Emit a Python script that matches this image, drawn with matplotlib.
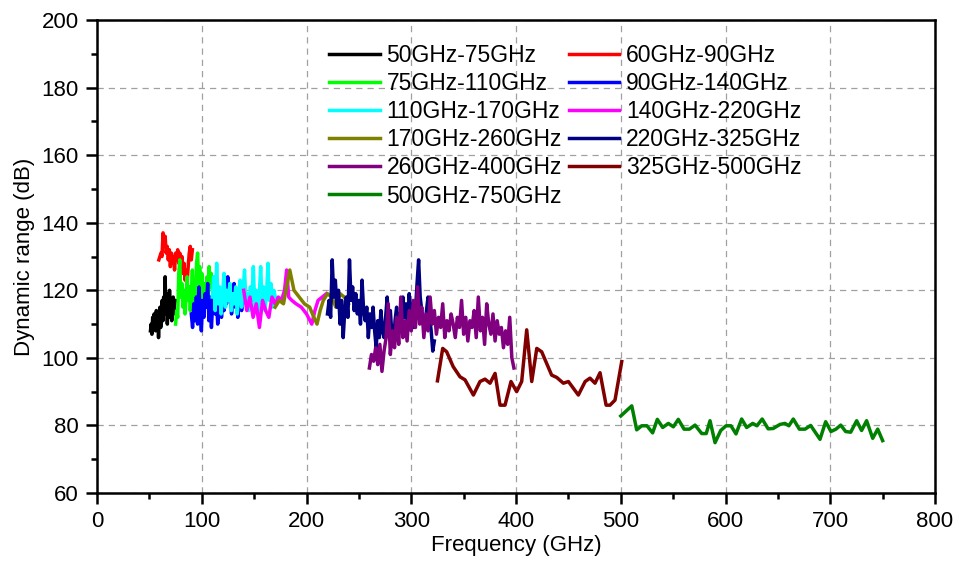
import matplotlib
matplotlib.use("Agg")
import matplotlib.pyplot as plt
from matplotlib.ticker import MultipleLocator

plt.rcParams['font.family'] = ['Liberation Sans', 'DejaVu Sans']

# ---- data ----
f_50_75 = [51, 51.7, 52.4, 53.1, 53.8, 54.5, 55.2, 55.9, 56.6, 57.3, 58, 58.7, 59.4, 60.1, 60.8, 61.5,
           62.2, 62.9, 63.6, 64.3, 65, 65.7, 66.4, 67.1, 67.8, 68.5, 69.2, 69.9, 70.6, 71.3, 72, 72.7,
           73.4, 74.1, 74.8]
d_50_75 = [108, 110, 107, 112, 109, 113, 111, 108, 114, 110, 113, 106, 112, 115, 109, 113,
           117, 111, 118, 114, 124, 113, 119, 110, 116, 112, 120, 114, 117, 111, 115, 118,
           113, 116, 117]

f_60_90 = [59, 60, 61, 62, 63, 64, 65, 66, 67, 68, 69, 70, 71, 72, 73, 74, 75, 76, 77, 78, 79, 80,
           81, 82, 83, 84, 85, 86, 87, 88, 89, 90, 91]
d_60_90 = [129, 130, 131, 130, 137, 134, 136, 131, 133, 129, 132, 127, 131, 128, 130, 126, 131, 129,
           132, 128, 131, 127, 130, 125, 128, 123, 126, 122, 127, 131, 133, 129, 132]

f_75_110 = [75, 76, 77, 78, 79, 80, 81, 82, 83, 84, 85, 86, 87, 88, 89, 90, 91, 92, 93, 94, 95, 96,
            97, 98, 99, 100, 101, 102, 103, 104, 105, 106, 107, 108, 109, 110]
d_75_110 = [110, 114, 112, 125, 129, 118, 122, 115, 120, 113, 118, 124, 117, 121, 114, 119, 126, 116,
            123, 118, 128, 131, 122, 127, 119, 125, 117, 122, 116, 120, 124, 118, 127, 121, 125, 120]

f_90_140 = [90, 91.2, 92.4, 93.6, 94.8, 96, 97.2, 98.4, 99.6, 100.8, 102, 103.2, 104.4, 105.6, 106.8,
            108, 109.2, 110.4, 111.6, 112.8, 114, 115.2, 116.4, 117.6, 118.8, 120, 121.2, 122.4,
            123.6, 124.8, 126, 127.2, 128.4, 129.6, 130.8, 132, 133.2, 134.4, 135.6, 136.8, 138, 139.2]
d_90_140 = [113, 109, 116, 111, 118, 110, 121, 114, 108, 117, 112, 119, 115, 122, 111, 118, 109, 116,
            120, 113, 117, 110, 115, 119, 112, 118, 114, 121, 116, 124, 117, 120, 113, 118, 122, 115,
            119, 112, 117, 121, 114, 118]

f_110_170 = [110, 111.4, 112.8, 114.2, 115.6, 117, 118.4, 119.8, 121.2, 122.6, 124, 125.4, 126.8,
             128.2, 129.6, 131, 132.4, 133.8, 135.2, 136.6, 138, 139.4, 140.8, 142.2, 143.6, 145,
             146.4, 147.8, 149.2, 150.6, 152, 153.4, 154.8, 156.2, 157.6, 159, 160.4, 161.8, 163.2,
             164.6, 166, 167.4, 168.8, 170.2]
d_110_170 = [118, 124, 114, 128, 116, 121, 113, 119, 125, 115, 120, 117, 122, 114, 119, 116, 121, 113,
             118, 123, 115, 120, 126, 116, 119, 114, 121, 117, 127, 115, 120, 113, 118, 127, 116, 121,
             114, 119, 128, 117, 122, 115, 120, 118]

f_140_220 = [140, 143, 146, 149, 152, 155, 158, 161, 164, 167, 170, 173, 176, 179, 181, 183, 186, 190,
             195, 200, 205, 208, 211, 215, 219]
d_140_220 = [120, 114, 118, 112, 116, 109, 117, 114, 112, 118, 116, 118, 117, 120, 126, 118, 117, 116,
             115, 113, 110, 114, 117, 118, 119]

f_170_260 = [170, 174, 178, 181, 184, 188, 193, 198, 203, 207, 210, 213, 216, 220, 224, 228, 232, 236, 240]
d_170_260 = [115, 117, 116, 121, 126, 120, 118, 116, 115, 112, 110, 114, 117, 119, 118, 115, 119, 118, 116]

f_220_325 = [220, 221.5, 223, 224.5, 226, 227.5, 229, 230.5, 232, 233.5, 235, 236.5, 238, 239.5, 241,
             242.5, 244, 245.5, 247, 248.5, 250, 251.5, 253, 254.5, 256, 257.5, 259, 260.5, 262,
             263.5, 265, 266.5, 268, 269.5, 271, 272.5, 274, 275.5, 277, 278.5, 280, 281.5, 283,
             284.5, 286, 287.5, 289, 290.5, 292, 293.5, 295, 296.5, 298, 299.5, 301, 302.5, 304,
             305.5, 307, 308.5, 310, 311.5, 313, 314.5, 316, 317.5, 319, 320.5, 322]
d_220_325 = [113, 117, 112, 129, 118, 123, 115, 120, 110, 117, 106, 114, 118, 112, 129,
             117, 121, 114, 119, 113, 117, 110, 123, 114, 111, 115, 106, 113, 109,
             115, 108, 103, 111, 106, 114, 108, 106, 112, 118, 110, 114, 107, 104,
             111, 115, 109, 113, 110, 118, 112, 116, 110, 119, 113, 116, 109, 114,
             122, 129, 118, 114, 110, 109, 114, 118, 112, 108, 102, 105]

f_260_400 = [260, 262, 264, 266, 268, 270, 272, 274, 276, 278, 280, 282, 284, 286, 288, 290, 292, 294,
             296, 298, 300, 302, 304, 306, 308, 310, 312, 314, 316, 318, 320, 322, 324, 326, 328, 330,
             332, 334, 336, 338, 340, 342, 344, 346, 348, 350, 352, 354, 356, 358, 360, 362, 364, 366,
             368, 370, 372, 374, 376, 378, 380, 382, 384, 386, 388, 390, 392, 394, 396, 398]
d_260_400 = [97, 101, 99, 103, 98, 104, 96, 102, 106, 116, 101, 108, 103, 112, 104, 118, 106, 111,
             105, 114, 108, 117, 109, 121, 110, 115, 106, 113, 108, 118, 110, 114, 107, 112, 109, 116,
             106, 111, 108, 113, 110, 106, 112, 109, 117, 107, 112, 105, 111, 109, 114, 106, 118, 108,
             112, 104, 116, 110, 107, 113, 105, 111, 107, 109, 103, 108, 104, 112, 100, 97]

f_325_500 = [325, 330, 333.8, 340, 346.5, 351.3, 359.3, 365.6, 370.4, 375.2, 380, 384.7, 389.5, 395.2,
             400.6, 405.4, 410.2, 415, 419.8, 424.5, 434, 438.9, 445.2, 450, 459.5, 466, 470.6, 475.4,
             480.2, 486, 489.7, 494.5, 500.9]
d_325_500 = [93.2, 102.8, 101.8, 97.4, 94.4, 93.5, 89, 93, 93.7, 92.5, 95.4, 86, 86, 93,
             90, 93, 108.3, 93, 102.8, 101.8, 94.9, 94.2, 92.5, 93, 89, 93, 94, 92.5,
             95.6, 86, 86, 87.5, 98.9]

f_500_750 = [500, 510.5, 515.2, 520, 525, 530.4, 534.9, 540, 545.4, 550.2, 554.9, 560.4, 565.5, 570.9,
             577.3, 581.6, 585.2, 590, 595.4, 600.5, 605.2, 610, 615.4, 620.2, 626, 630, 635, 640.7,
             645.5, 652, 656.7, 660.5, 664.7, 670.5, 675.9, 681.3, 690.2, 695.6, 700.7, 705.4, 710,
             714.7, 719.5, 725.2, 729.9, 734.7, 740.5, 745.3, 750]
d_500_750 = [82.8, 85.8, 78.7, 79.9, 79.9, 77.8, 81.8, 79.4, 80.6, 79.6, 81.8, 78.9, 78.9, 80.1,
             77.6, 77.6, 81.4, 74.9, 78.5, 79.9, 79.9, 77.5, 81.9, 79.4, 80.6, 79.9, 81.9, 79,
             79.1, 80.3, 80.6, 79.9, 81.9, 78.9, 78.9, 80, 75.9, 81.1, 78.2, 78.9, 80.1,
             78.2, 78, 81.4, 78.5, 81.4, 76.2, 78.9, 75.5]

labels = ['50GHz-75GHz', '60GHz-90GHz', '75GHz-110GHz', '90GHz-140GHz', '110GHz-170GHz',
          '140GHz-220GHz', '170GHz-260GHz', '220GHz-325GHz', '260GHz-400GHz', '325GHz-500GHz',
          '500GHz-750GHz']
colors = ['#000000', '#FF0000', '#00FF00', '#0000FF', '#00FFFF', '#FF00FF', '#808000', '#000080',
          '#800080', '#800000', '#008000']
freqs = [f_50_75, f_60_90, f_75_110, f_90_140, f_110_170, f_140_220, f_170_260, f_220_325,
         f_260_400, f_325_500, f_500_750]
vals = [d_50_75, d_60_90, d_75_110, d_90_140, d_110_170, d_140_220, d_170_260, d_220_325,
        d_260_400, d_325_500, d_500_750]

fig = plt.figure(figsize=(9.58, 5.65), dpi=100)
ax = fig.add_axes([0.1013, 0.1274, 0.8747, 0.8372])

handles = []
for f, d, c, lab in zip(freqs, vals, colors, labels):
    h, = ax.plot(f, d, color=c, lw=2.5, label=lab, solid_joinstyle='round')
    handles.append(h)

ax.set_xlim(0, 800)
ax.set_ylim(60, 200)
ax.xaxis.set_major_locator(MultipleLocator(100))
ax.xaxis.set_minor_locator(MultipleLocator(50))
ax.yaxis.set_major_locator(MultipleLocator(20))
ax.yaxis.set_minor_locator(MultipleLocator(10))
ax.tick_params(which='major', direction='out', length=8, width=1.8, labelsize=16, pad=5)
ax.tick_params(which='minor', direction='out', length=4.5, width=1.8)
for s in ax.spines.values():
    s.set_linewidth(1.8)
ax.grid(True, which='major', color='#a0a0a0', linestyle=(0, (5, 4)), linewidth=0.9)
ax.set_axisbelow(True)

ax.set_xlabel('Frequency (GHz)', fontsize=16, labelpad=2)
ax.set_ylabel('Dynamic range (dB)', fontsize=16, labelpad=5)

# legend arranged row-wise as in the reference (column-major fill in matplotlib)
order = [0, 2, 4, 6, 8, 10, 1, 3, 5, 7, 9]
leg = ax.legend([handles[i] for i in order], [labels[i] for i in order], ncol=2, frameon=False,
                fontsize=16.5, loc='upper left', bbox_to_anchor=(0.266, 0.968),
                handlelength=2.2, handletextpad=0.3, columnspacing=0.3, labelspacing=0.22,
                borderaxespad=0)
for lh in leg.get_lines():
    lh.set_linewidth(2.5)

fig.savefig('out.png', dpi=100)
